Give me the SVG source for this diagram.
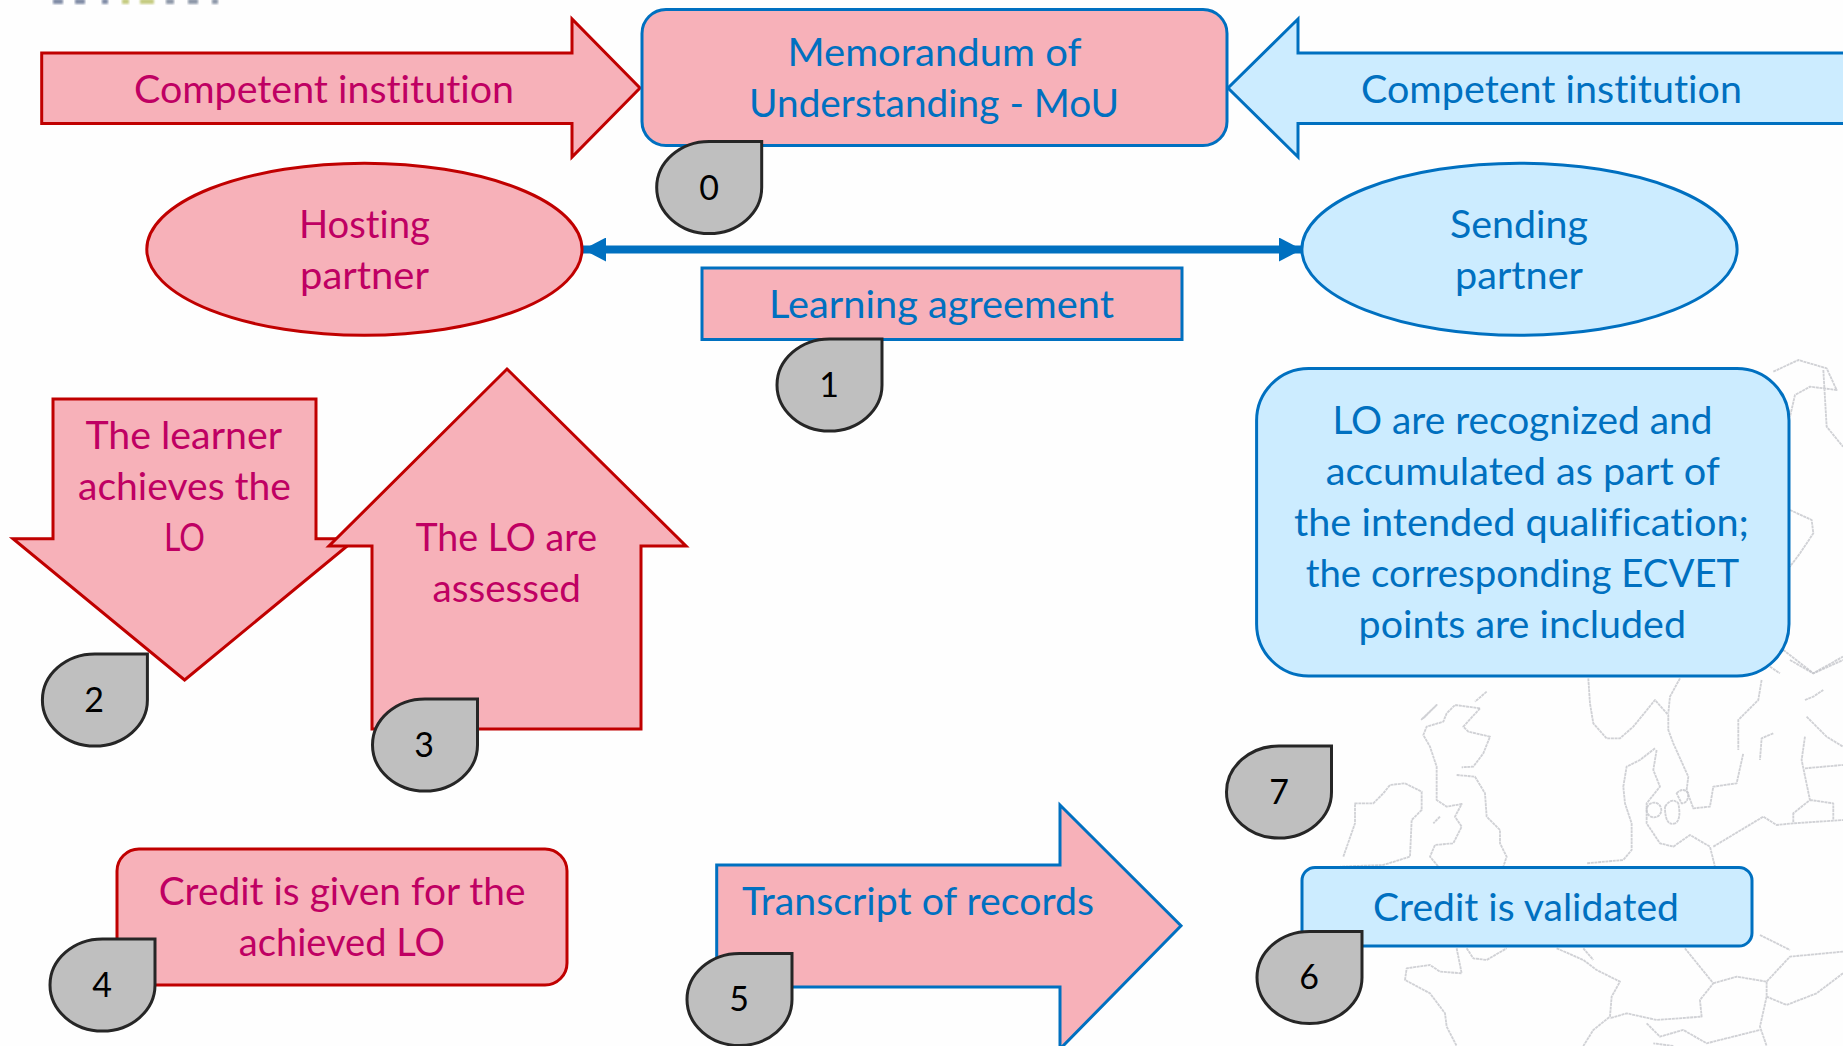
<svg xmlns="http://www.w3.org/2000/svg" xmlns:xlink="http://www.w3.org/1999/xlink" width="1843" height="1046" viewBox="0 0 1843 1046">
<style>
.pr{fill:#f7b1b9;stroke:#c00000;stroke-width:3}
.pb{fill:#f7b1b9;stroke:#0070c0;stroke-width:3}
.lb{fill:#ccecff;stroke:#0070c0;stroke-width:3}
.d{fill:#bfbfbf;stroke:#262626;stroke-width:3}
text{font-family:Lato,"Open Sans",sans-serif;font-size:39.5px;font-variant-ligatures:none}
.tp{fill:#bf0063}
.tb{fill:#0070c0}
.n{fill:#000;font-size:34px;text-anchor:middle}
.map path{fill:none;stroke:#c4c5ca;stroke-width:5.5;stroke-linejoin:round;stroke-dasharray:9 2;opacity:.8}
.logo rect{filter:url(#bl)}
</style>
<defs>
<path id="drop" d="M52.5 -46L0 -46A52.5 46 0 1 0 52.5 0Z"/>
<filter id="bl"><feGaussianBlur stdDeviation="1"/></filter>
<marker id="ah" markerUnits="userSpaceOnUse" markerWidth="24" markerHeight="24" refX="23" refY="12" orient="auto-start-reverse"><path d="M0 0L23 12L0 24Z" fill="#0070c0"/></marker>
</defs>
<rect width="1843" height="1046" fill="#fefefe"/>
<g class="logo">
<rect x="53" y="-1" width="10" height="5" fill="#7f8ba5"/><rect x="75" y="-1" width="10" height="5" fill="#7f8ba5"/><rect x="102" y="-1" width="6" height="5" fill="#7f8ba5"/><rect x="122" y="-1" width="7" height="5" fill="#c5cb80"/><rect x="140" y="-1" width="14" height="5" fill="#c5cb80"/><rect x="166" y="-1" width="8" height="5" fill="#8d97a8"/><rect x="188" y="-1" width="10" height="5" fill="#8d97a8"/><rect x="212" y="-1" width="6" height="5" fill="#8d97a8"/>
</g>
<g class="map" transform="translate(1340 660) scale(.3333)">
<path d="M245 178L290 135L255 170ZM440 95L405 125"/>
<path d="M420 145L345 135L320 160L310 185L260 200L250 225L270 260L290 320L290 420L320 440L365 432L345 470L365 500L340 550L285 555L270 590L295 620"/>
<path d="M420 145L370 200L385 215L450 230L430 280L400 320L365 322M350 345L405 350L435 400L440 470L480 510L480 550L500 590L490 620"/>
<path d="M10 590L45 490L45 430L100 430L130 400L150 375L195 370L245 395L245 450L215 480L210 590L130 615L0 620M300 470L280 490"/>
<path d="M745 55L750 130L760 190L800 235L840 235L880 200L945 120L985 165L985 210L1000 250L1045 350L1040 390L1060 445L1110 440L1120 380L1190 370L1210 280M1020 55L990 110L985 160M1265 60L1255 120L1195 180L1195 270"/>
<path d="M945 265L900 300L860 320L850 380L855 430L875 490L875 570L850 600L740 610M950 270L940 330L960 380L920 430L920 490L960 550L1000 560L1050 525L1110 560L1125 620M1120 560L1220 500L1270 470L1310 495L1360 490L1509 480"/>
<path d="M920 450a22 22 0 1 0 44 0a22 22 0 1 0 -44 0M975 440q20 -30 40 -10q10 50 -10 60q-30 10 -30 -50M1010 400q20 -20 35 0q0 30 -20 30z"/>
<path d="M1300 220L1265 235L1260 300M1395 120L1420 110L1450 90M1395 230L1385 300L1410 420L1360 460L1360 490M1410 420L1480 430L1480 480M1395 325L1509 315M1400 170L1460 230L1509 260M1290 20L1320 40M1350 0L1420 40L1509 0"/>
<path d="M350 865L365 940L300 935L270 915L200 925L195 960L270 1000L315 1060L320 1100L350 1158M380 865L400 895L440 900L500 865M650 865L730 900L770 930L840 965L815 1010L810 1070L760 1110L730 1158M730 865L760 900"/>
<path d="M1035 865L1120 970L1080 1020L1085 1070L950 1080L860 1060L810 1075M1120 970L1190 950L1280 965L1350 890L1509 875M1280 965L1280 1010L1340 1035L1430 1000L1509 940M1280 1010L1260 1100L1280 1158M1260 825L1350 870M920 1090L960 1130L1030 1110L1100 1150L1260 1110M1000 1158L940 1150"/>
</g>
<g class="map" transform="translate(1740 340) scale(.3333)">
<path d="M100 95L175 60L260 85L290 150L210 140L165 165L150 230M250 90L260 260L309 320M150 510L215 540L220 580L180 640L150 680M130 930L220 1000L309 950"/>
</g>
<g id="connectors">
<line x1="583" y1="249.5" x2="1302" y2="249.5" stroke="#0070c0" stroke-width="8" marker-start="url(#ah)" marker-end="url(#ah)"/>
</g>
<g id="arrow-competent-left"><path class="pr" d="M41.7 53H572V19L640 88L572 157V123.5H41.7Z"/><text class="tp" x="134" y="103" textLength="380" lengthAdjust="spacingAndGlyphs">Competent institution</text></g>
<g id="mou"><rect class="pb" x="642" y="9.5" width="585" height="136" rx="24"/><text class="tb" x="787.5" y="66" textLength="294" lengthAdjust="spacingAndGlyphs">Memorandum of</text><text class="tb" x="749" y="117" textLength="370" lengthAdjust="spacingAndGlyphs">Understanding - MoU</text></g>
<g id="arrow-competent-right"><path class="lb" d="M1846 53H1298V19L1228 88L1298 157V123.5H1846Z"/><text class="tb" x="1361" y="103" textLength="381" lengthAdjust="spacingAndGlyphs">Competent institution</text></g>
<g id="hosting"><ellipse class="pr" cx="364.4" cy="249.3" rx="217.6" ry="86"/><text class="tp" x="299" y="238" textLength="131" lengthAdjust="spacingAndGlyphs">Hosting</text><text class="tp" x="300" y="289" textLength="129" lengthAdjust="spacingAndGlyphs">partner</text></g>
<g id="sending"><ellipse class="lb" cx="1519.5" cy="249.3" rx="217.6" ry="86"/><text class="tb" x="1450" y="238" textLength="138" lengthAdjust="spacingAndGlyphs">Sending</text><text class="tb" x="1455" y="289" textLength="128" lengthAdjust="spacingAndGlyphs">partner</text></g>
<g id="learning"><rect class="pb" x="702" y="268" width="480" height="71.5"/><text class="tb" x="769" y="318" textLength="345" lengthAdjust="spacingAndGlyphs">Learning agreement</text></g>
<g id="learner"><path class="pr" d="M53 399H316V538.7H356L184.6 680L13 538.7H53Z"/><text class="tp" x="85.4" y="449" textLength="196.6" lengthAdjust="spacingAndGlyphs">The learner</text><text class="tp" x="78" y="500" textLength="213" lengthAdjust="spacingAndGlyphs">achieves the</text><text class="tp" x="164" y="551" textLength="41" lengthAdjust="spacingAndGlyphs">LO</text></g>
<g id="assessed"><path class="pr" d="M507 369L686 546H641V729H372V546H329Z"/><text class="tp" x="415.5" y="551" textLength="181.5" lengthAdjust="spacingAndGlyphs">The LO are</text><text class="tp" x="432.5" y="602" textLength="148.5" lengthAdjust="spacingAndGlyphs">assessed</text></g>
<g id="recognized"><rect class="lb" x="1256.6" y="368.5" width="532.4" height="307.5" rx="52"/><text class="tb" x="1332.4" y="433.7" textLength="380" lengthAdjust="spacingAndGlyphs">LO are recognized and</text><text class="tb" x="1325.8" y="484.5" textLength="394" lengthAdjust="spacingAndGlyphs">accumulated as part of</text><text class="tb" x="1294" y="535.5" textLength="455" lengthAdjust="spacingAndGlyphs">the intended qualification;</text><text class="tb" x="1305.7" y="586.8" textLength="433.6" lengthAdjust="spacingAndGlyphs">the corresponding ECVET</text><text class="tb" x="1358.6" y="637.5" textLength="327.4" lengthAdjust="spacingAndGlyphs">points are included</text></g>
<g id="credit-given"><rect class="pr" x="117" y="849" width="450" height="136" rx="22"/><text class="tp" x="158.7" y="905" textLength="366.8" lengthAdjust="spacingAndGlyphs">Credit is given for the</text><text class="tp" x="238.8" y="956" textLength="206.2" lengthAdjust="spacingAndGlyphs">achieved LO</text></g>
<g id="transcript"><path class="pb" d="M716.7 865H1060V805L1181 925.7L1060 1049V987H716.7Z"/><text class="tb" x="742" y="915" textLength="352" lengthAdjust="spacingAndGlyphs">Transcript of records</text></g>
<g id="credit-validated"><rect class="lb" x="1302" y="867.5" width="450" height="78.5" rx="13"/><text class="tb" x="1373" y="920.7" textLength="306" lengthAdjust="spacingAndGlyphs">Credit is validated</text></g>
<g id="badge-0"><use href="#drop" class="d" x="709.2" y="187.5"/><text class="n" x="709" y="199.5">0</text></g>
<g id="badge-1"><use href="#drop" class="d" x="829.5" y="385"/><text class="n" x="829" y="397">1</text></g>
<g id="badge-2"><use href="#drop" class="d" x="94.9" y="700"/><text class="n" x="94" y="712">2</text></g>
<g id="badge-3"><use href="#drop" class="d" x="425" y="745"/><text class="n" x="424" y="757">3</text></g>
<g id="badge-4"><use href="#drop" class="d" x="102.5" y="985"/><text class="n" x="102" y="997">4</text></g>
<g id="badge-5"><use href="#drop" class="d" x="739.5" y="999.5"/><text class="n" x="739" y="1011">5</text></g>
<g id="badge-6"><use href="#drop" class="d" x="1309.5" y="977.5"/><text class="n" x="1309" y="989">6</text></g>
<g id="badge-7"><use href="#drop" class="d" x="1279" y="792"/><text class="n" x="1279" y="804">7</text></g>
</svg>
